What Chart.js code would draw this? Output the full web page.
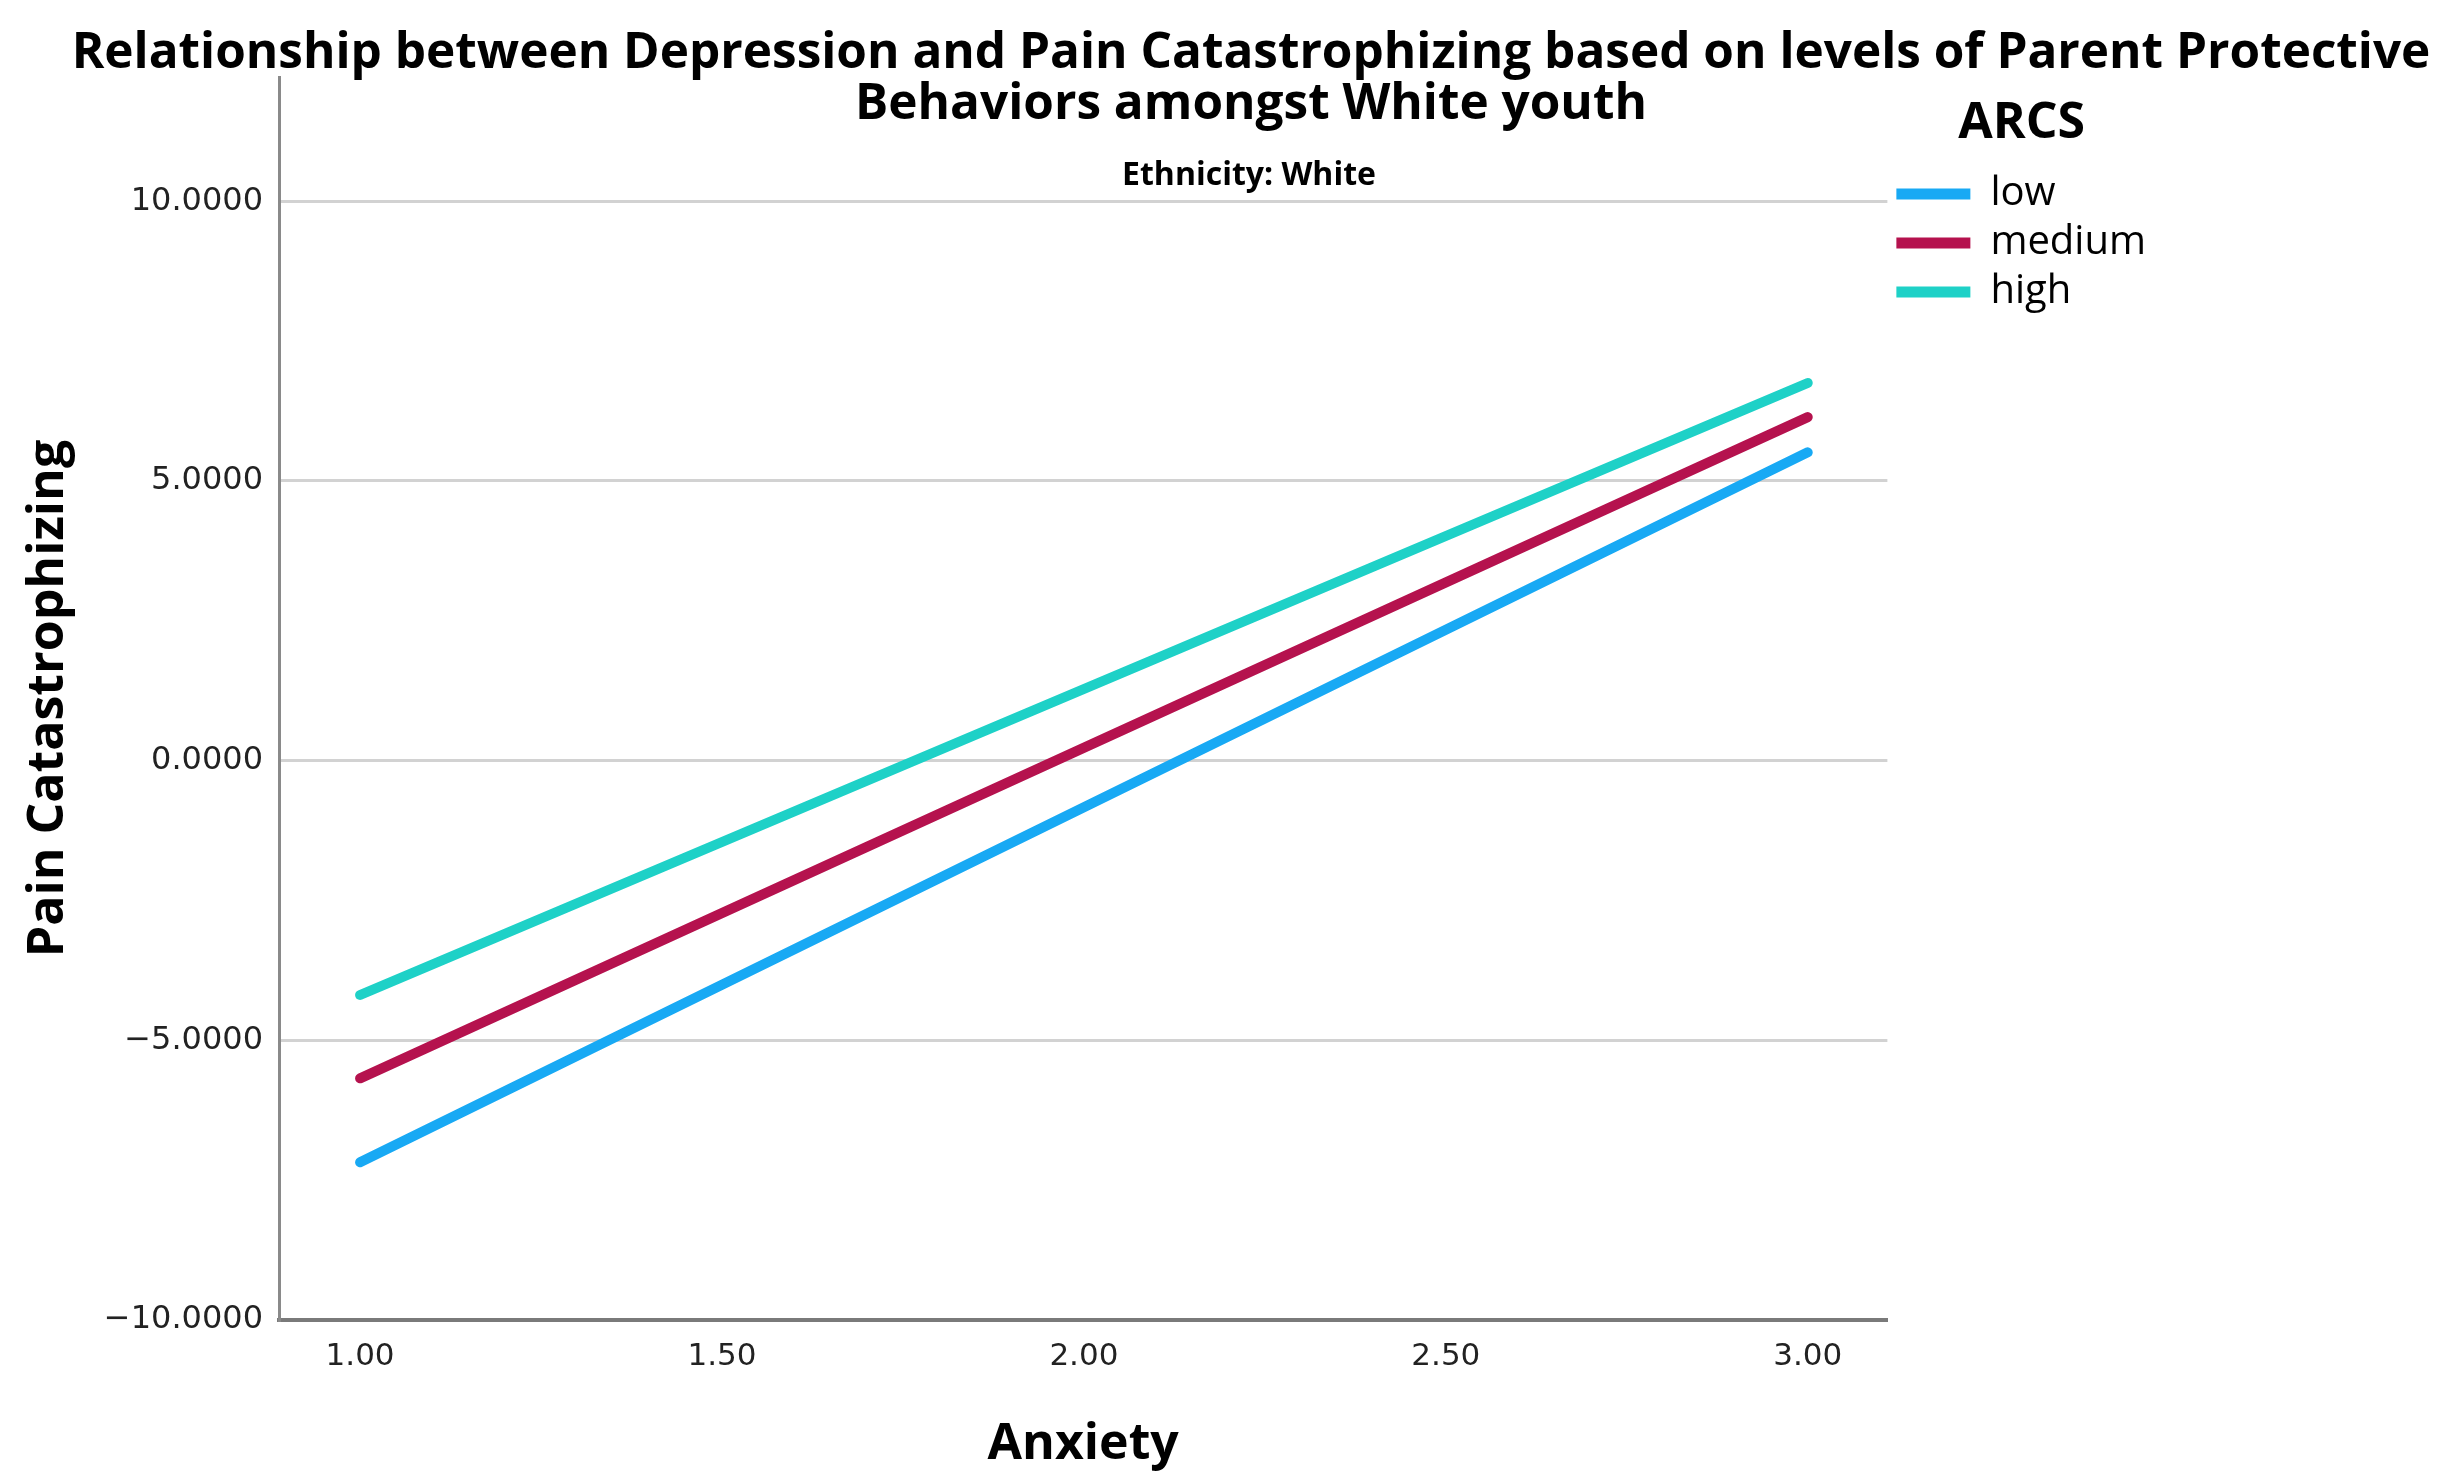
<!DOCTYPE html>
<html>
<head>
<meta charset="utf-8">
<title>Pain Catastrophizing by ARCS</title>
<script src="https://cdn.jsdelivr.net/npm/chart.js@4.4.1/dist/chart.umd.min.js"></script>
<style>
  html, body { margin: 0; padding: 0; background: #fff; }
  #wrap { width: 2447px; height: 1484px; }
</style>
</head>
<body>
<div id="wrap"><canvas id="canvas"></canvas></div>
<script>
// values (fitted lines at Anxiety = 1 and 3)
const anxiety = [1.00, 3.00];
const lowValues = [-7.18, 5.51];
const mediumValues = [-5.68, 6.14];
const highValues = [-4.19, 6.75];
const seriesNames = ['low', 'medium', 'high'];
const seriesColors = ['#18a9f4', '#b5124e', '#1ed1c7'];
const xTicks = [1.00, 1.50, 2.00, 2.50, 3.00];
const yTicks = [-10, -5, 0, 5, 10];

const titleLines = [
    'Relationship between Depression and Pain Catastrophizing based on levels of Parent Protective',
    'Behaviors amongst White youth'
];
const panelLabel = 'Ethnicity: White';

function toPoints(vals) {
    return anxiety.map((x, i) => ({ x: x, y: vals[i] }));
}

// title sits partly inside the plot area, so draw it by hand
const headerText = {
    id: 'headerText',
    afterDraw(chart) {
        const ctx = chart.ctx;
        ctx.save();
        ctx.fillStyle = '#000';
        ctx.textAlign = 'center';
        ctx.textBaseline = 'alphabetic';
        ctx.font = 'bold 49.5px "Open Sans"';
        ctx.fillText(titleLines[0], 1251, 68, 2360);
        ctx.fillText(titleLines[1], 1251, 119, 2360);
        ctx.font = 'bold 32px "Open Sans"';
        ctx.textBaseline = 'middle';
        ctx.fillText(panelLabel, 1249, 176);
        ctx.restore();
    }
};

let data = {
    datasets: [
        { label: seriesNames[0], data: toPoints(lowValues) },
        { label: seriesNames[1], data: toPoints(mediumValues) },
        { label: seriesNames[2], data: toPoints(highValues) }
    ].map((ds, i) => Object.assign(ds, {
        borderColor: seriesColors[i],
        backgroundColor: seriesColors[i],
        borderWidth: 10,
        borderCapStyle: 'round',
        pointRadius: 0,
        pointHoverRadius: 0,
        fill: false
    }))
};

let options = {
    responsive: true,
    maintainAspectRatio: false,
    animation: false,
    layout: { padding: { top: 77, right: 291, left: 0, bottom: 0 } },
    plugins: {
        tooltip: { enabled: false },
        legend: {
            position: 'right',
            align: 'start',
            title: {
                display: true,
                text: 'ARCS',
                color: '#000',
                font: { family: 'Open Sans', size: 50, weight: 'bold' },
                padding: { top: 22, bottom: 6 }
            },
            labels: {
                color: '#000',
                font: { family: 'Open Sans', size: 40 },
                boxWidth: 74,
                boxHeight: 11,
                padding: 9,
                generateLabels(chart) {
                    const items = Chart.defaults.plugins.legend.labels.generateLabels(chart);
                    items.forEach(it => { it.lineWidth = 0; it.fillStyle = it.strokeStyle; });
                    return items;
                }
            }
        }
    },
    scales: {
        x: {
            type: 'linear',
            min: 0.888,
            max: 3.11,
            afterFit: s => { s.height = 164; },
            afterBuildTicks: s => { s.ticks = xTicks.map(v => ({ value: v })); },
            grid: { display: false },
            border: { display: true, color: '#7a7a7a', width: 4 },
            ticks: {
                color: '#222',
                padding: 10,
                maxRotation: 0,
                font: { family: 'DejaVu Sans', size: 31 },
                callback: v => Number(v).toFixed(2)
            },
            title: {
                display: true,
                text: 'Anxiety',
                color: '#000',
                font: { family: 'Open Sans', size: 50, weight: 'bold' },
                padding: { top: 0, bottom: 9 }
            }
        },
        y: {
            min: -10,
            max: 12.22,
            afterFit: s => { s.width = 279; },
            afterBuildTicks: s => { s.ticks = yTicks.map(v => ({ value: v })); },
            grid: { color: '#d2d2d2', lineWidth: 3, drawTicks: false },
            border: { display: true, color: '#8a8a8a', width: 3 },
            ticks: {
                color: '#222',
                padding: 16,
                font: { family: 'DejaVu Sans', size: 32 },
                callback: v => (v < 0 ? '\u2212' : '') + Math.abs(v).toFixed(4)
            },
            title: {
                display: true,
                text: 'Pain Catastrophizing',
                color: '#000',
                font: { family: 'Open Sans', size: 50, weight: 'bold' },
                padding: { top: 19, bottom: 0 }
            }
        }
    }
};

let ctx = document.getElementById('canvas').getContext('2d');

let myLineChart = new Chart(ctx, {
    type: 'line',
    data: data,
    options: options,
    plugins: [headerText]
});
</script>
</body>
</html>
